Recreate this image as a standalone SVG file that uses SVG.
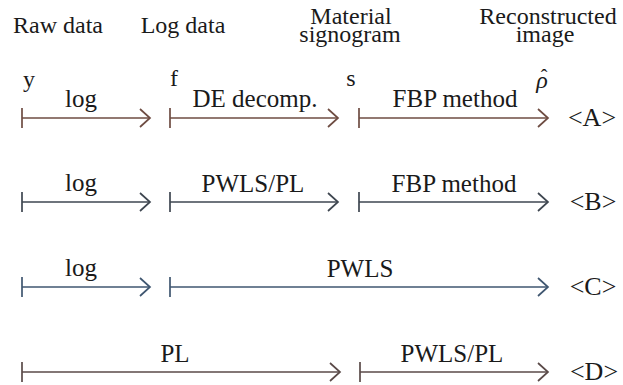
<svg xmlns="http://www.w3.org/2000/svg" width="623" height="385" viewBox="0 0 623 385">
<style>
.ln{fill:none;stroke-width:1.7}
.a{stroke:#6e4c42}
.b{stroke:#3e4650}
.c{stroke:#3f5670}
.d{stroke:#5a4a48}
</style>
<defs>
<path id="head" d="M-10,-9 L0,0 L-10,9" fill="none" stroke-width="1.7"/>
<path id="tick" d="M0,-10 L0,10" fill="none" stroke-width="1.7"/>
</defs>
<rect width="623" height="385" fill="#fff"/>
<g fill="#1a1a1a" text-anchor="middle">
<g id="headers">
<g id="raw"><text style="font-family:'Liberation Serif',serif;font-size:24px" x="58" y="33">Raw data</text></g>
<g id="logdata"><text style="font-family:'Liberation Serif',serif;font-size:24px" x="183" y="33">Log data</text></g>
<g id="material"><text style="font-family:'Liberation Serif',serif;font-size:24px" x="351" y="24">Material</text><text style="font-family:'Liberation Serif',serif;font-size:24px" x="350" y="42">signogram</text></g>
<g id="recon"><text style="font-family:'Liberation Serif',serif;font-size:24px" x="548" y="24">Reconstructed</text><text style="font-family:'Liberation Serif',serif;font-size:24px" x="545" y="42">image</text></g>
</g>
<g id="vars">
<g id="var-y"><text style="font-family:'Liberation Serif',serif;font-size:24px" x="29" y="87">y</text></g>
<g id="var-f"><text style="font-family:'Liberation Serif',serif;font-size:24px" x="174" y="86">f</text></g>
<g id="var-s"><text style="font-family:'Liberation Serif',serif;font-size:24px" x="351" y="86">s</text></g>
<g id="var-rho"><text style="font-family:'Liberation Serif',serif;font-size:24px;font-style:italic" x="542" y="88">ρ</text><text style="font-family:'Liberation Serif',serif;font-size:20px" x="544" y="84">ˆ</text></g>
</g>
<g id="labels">
<text style="font-family:'Liberation Serif',serif;font-size:25px" x="81" y="107">log</text>
<text style="font-family:'Liberation Serif',serif;font-size:25px" x="255" y="107">DE decomp.</text>
<text style="font-family:'Liberation Serif',serif;font-size:25px" x="455" y="107">FBP method</text>
<text style="font-family:'Liberation Serif',serif;font-size:25px" x="81" y="191">log</text>
<text style="font-family:'Liberation Serif',serif;font-size:25px" x="253" y="192">PWLS/PL</text>
<text style="font-family:'Liberation Serif',serif;font-size:25px" x="454" y="192">FBP method</text>
<text style="font-family:'Liberation Serif',serif;font-size:25px" x="81" y="276">log</text>
<text style="font-family:'Liberation Serif',serif;font-size:25px" x="360" y="277">PWLS</text>
<text style="font-family:'Liberation Serif',serif;font-size:25px" x="175" y="362">PL</text>
<text style="font-family:'Liberation Serif',serif;font-size:25px" x="452" y="362">PWLS/PL</text>
</g>
<g id="tags">
<g id="tagA"><text style="font-family:'Liberation Serif',serif;font-size:26px" x="592" y="126">&lt;A&gt;</text></g>
<g id="tagB"><text style="font-family:'Liberation Serif',serif;font-size:26px" x="593" y="210">&lt;B&gt;</text></g>
<g id="tagC"><text style="font-family:'Liberation Serif',serif;font-size:26px" x="593" y="295">&lt;C&gt;</text></g>
<g id="tagD"><text style="font-family:'Liberation Serif',serif;font-size:26px" x="594" y="380">&lt;D&gt;</text></g>
</g>
</g>
<g id="connectors">
<g id="rowA" class="a">
<path class="ln a" d="M22,118 H150"/><use href="#tick" x="22" y="118"/><use href="#head" x="150" y="118"/>
<path class="ln a" d="M170,118 H338"/><use href="#tick" x="170" y="118"/><use href="#head" x="338" y="118"/>
<path class="ln a" d="M359,118 H548"/><use href="#tick" x="359" y="118"/><use href="#head" x="548" y="118"/>
</g>
<g id="rowB" class="b">
<path class="ln b" d="M22,202 H150"/><use href="#tick" x="22" y="202"/><use href="#head" x="150" y="202"/>
<path class="ln b" d="M170,202 H338"/><use href="#tick" x="170" y="202"/><use href="#head" x="338" y="202"/>
<path class="ln b" d="M359,202 H548"/><use href="#tick" x="359" y="202"/><use href="#head" x="548" y="202"/>
</g>
<g id="rowC" class="c">
<path class="ln c" d="M22,287 H150"/><use href="#tick" x="22" y="287"/><use href="#head" x="150" y="287"/>
<path class="ln c" d="M170,287 H548"/><use href="#tick" x="170" y="287"/><use href="#head" x="548" y="287"/>
</g>
<g id="rowD" class="d">
<path class="ln d" d="M22,372 H340"/><use href="#tick" x="22" y="372"/><use href="#head" x="340" y="372"/>
<path class="ln d" d="M360,372 H548"/><use href="#tick" x="360" y="372"/><use href="#head" x="548" y="372"/>
</g>
</g>
</svg>
